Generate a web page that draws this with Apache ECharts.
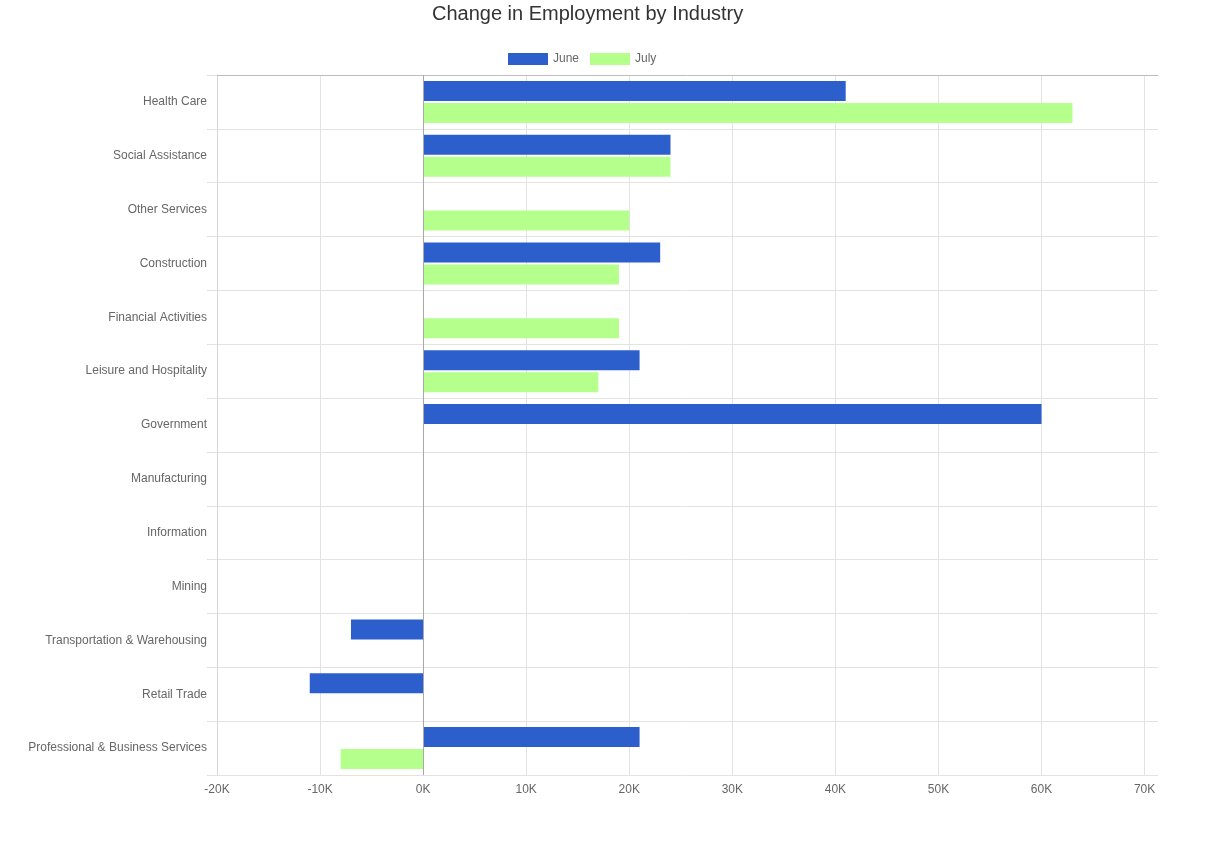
<!DOCTYPE html>
<html>
<head>
<meta charset="utf-8">
<script src="https://cdn.jsdelivr.net/npm/echarts@6/dist/echarts.min.js"></script>
<style>
html,body{margin:0;padding:0;background:#fff;}
#chart{width:1225px;height:846px;}
</style>
</head>
<body>
<div id="chart"></div>
<script>
const categories = ["Health Care","Social Assistance","Other Services","Construction","Financial Activities","Leisure and Hospitality","Government","Manufacturing","Information","Mining","Transportation & Warehousing","Retail Trade","Professional & Business Services"];
const juneValues = [41000, 24000, null, 23000, null, 21000, 60000, null, null, null, -7000, -11000, 21000];
const julyValues = [63000, 24000, 20000, 19000, 19000, 17000, null, null, null, null, null, null, -8000];
const seriesNames = ["June", "July"];
const seriesColors = ["#2c5fcc", "#b5ff8c"];

const FONT = "'Liberation Sans', Arial, sans-serif";
const chart = echarts.init(document.getElementById('chart'), null, {renderer: 'canvas'});

chart.setOption({
  backgroundColor: '#fff',
  animation: false,
  textStyle: {fontFamily: FONT},
  title: {
    text: 'Change in Employment by Industry',
    left: 432, top: 0, padding: [4, 0],
    textStyle: {fontSize: 20, fontWeight: 'normal', color: '#333', fontFamily: FONT}
  },
  legend: {
    data: seriesNames,
    left: 508, top: 53, padding: 0,
    itemWidth: 40, itemHeight: 12, itemGap: 11,
    icon: 'rect',
    textStyle: {fontSize: 12, color: '#666', fontFamily: FONT}
  },
  grid: {left: 217, right: 67, top: 75, bottom: 71, containLabel: false},
  xAxis: [{
    type: 'value',
    position: 'bottom',
    min: -20000, max: 71300, interval: 10000,
    axisLine: {show: false},
    axisTick: {show: false},
    axisLabel: {
      color: '#666', fontSize: 12, margin: 9, fontFamily: FONT,
      formatter: v => (v % 10000 === 0 ? (v / 1000) + 'K' : '')
    },
    splitLine: {show: true, showMinLine: true, showMaxLine: false, lineStyle: {color: '#e3e3e3', width: 1}}
  }, {
    type: 'value',
    position: 'top',
    min: -20000, max: 71300, interval: 10000,
    axisLine: {show: true, onZero: false, lineStyle: {color: '#bdbdbd', width: 1}},
    axisTick: {show: false},
    axisLabel: {show: false},
    splitLine: {show: false}
  }],
  yAxis: {
    type: 'category',
    data: categories,
    inverse: true,
    axisLine: {show: true, onZero: false, lineStyle: {color: '#d6d6d6'}},
    axisTick: {show: true, length: 10, lineStyle: {color: '#e3e3e3'}},
    axisLabel: {color: '#666', fontSize: 12, margin: 10, fontFamily: FONT},
    splitLine: {show: true, lineStyle: {color: '#e3e3e3', width: 1}}
  },
  series: [
    {name: seriesNames[0], type: 'bar', xAxisIndex: 0, data: juneValues, itemStyle: {color: seriesColors[0]}, barCategoryGap: '22%', barGap: '10%',
     markLine: {silent: true, symbol: 'none', label: {show: false}, lineStyle: {color: '#a8a8a8', type: 'solid', width: 1}, data: [{xAxis: 0}]}},
    {name: seriesNames[1], type: 'bar', xAxisIndex: 0, data: julyValues, itemStyle: {color: seriesColors[1]}, barCategoryGap: '22%', barGap: '10%'}
  ]
});
</script>
</body>
</html>
